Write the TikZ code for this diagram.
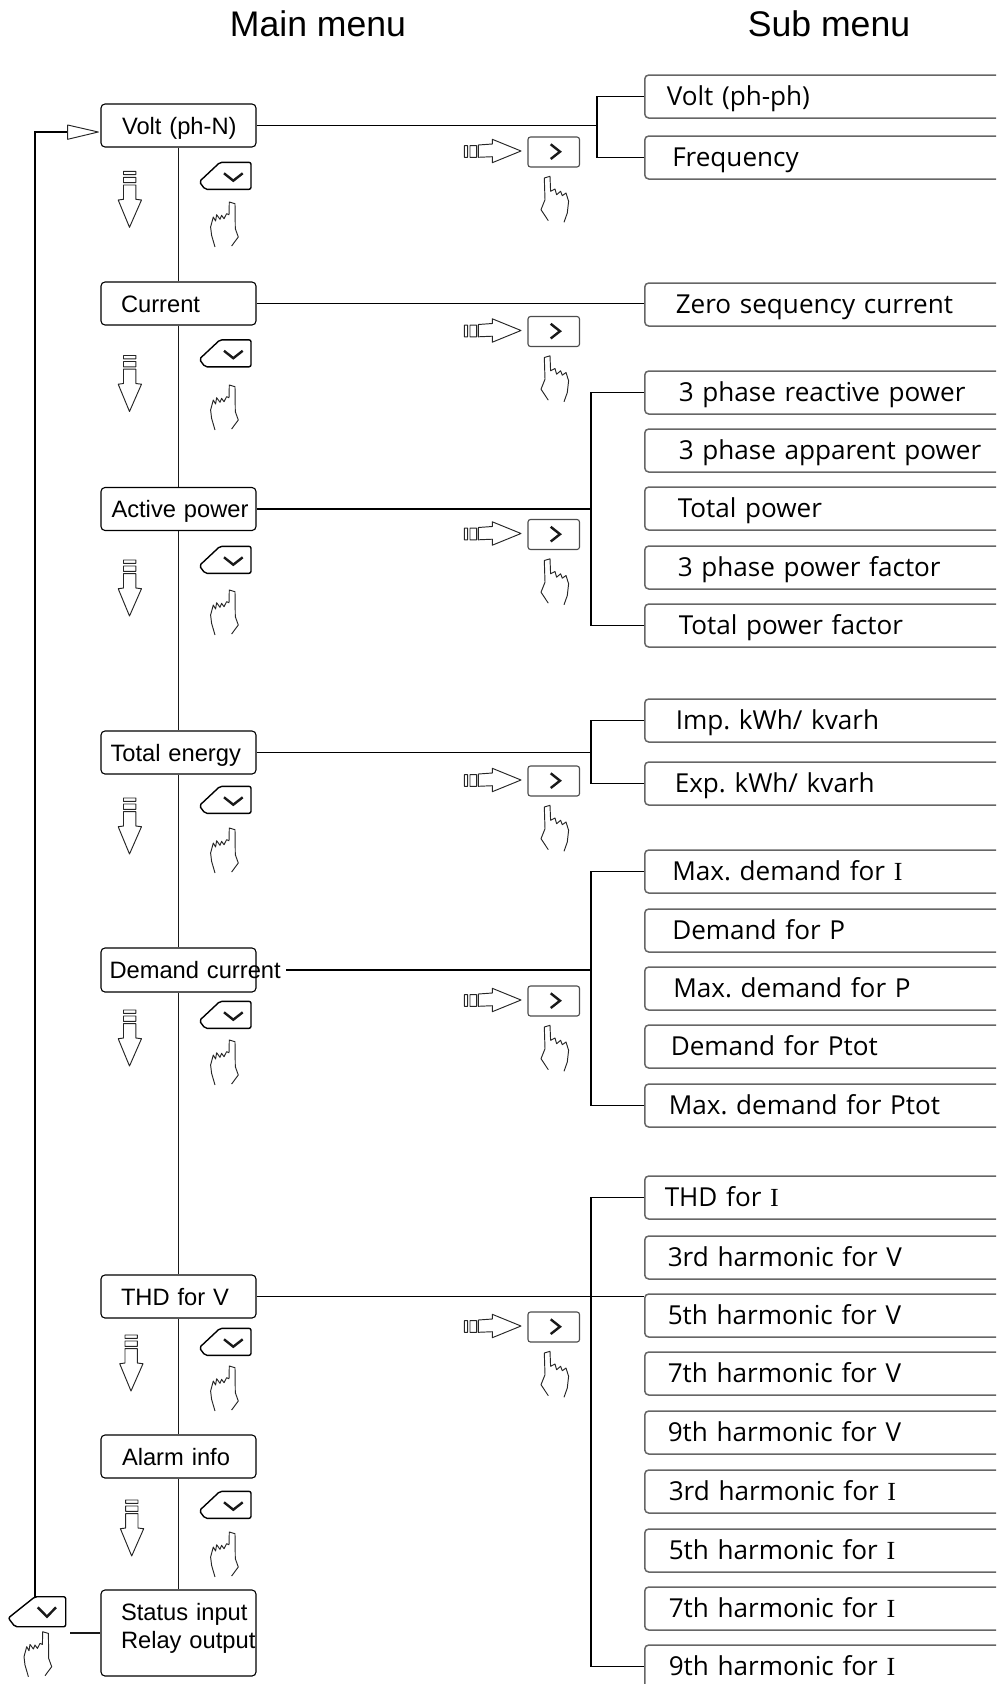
\documentclass[tikz,border=0pt]{standalone}
\usepackage{fontspec}
\setmainfont{Liberation Sans}
\newfontfamily\subfont{Open Sans}
\newfontfamily\serifI{Liberation Serif}
\newcommand{\sI}{{\serifI I}}
\tikzset{
  x=1pt,y=-1pt,
  icon/.style={draw=black,line width=0.9pt,line join=round},
  thinicon/.style={draw=black!85,line width=0.95pt,line join=round},
  chev/.style={draw=black!90,line width=2.4pt,line join=miter},
  wire/.style={draw=black,line width=1.8pt},
  wirethin/.style={draw=black!90,line width=1.6pt},
  mainbox/.style={draw=black,line width=1.1pt,fill=white,rounded corners=4pt,minimum width=155pt,text width=155pt,inner sep=0pt,align=left,font=\fontsize{23.7}{28}\selectfont},
  subbox/.style={draw=black!60,line width=1.5pt,rounded corners=4pt,fill=white,minimum height=43pt,minimum width=370pt,text width=370pt,inner sep=0pt,align=left,font=\subfont\frenchspacing\fontsize{26.1}{32}\selectfont},
  title/.style={inner sep=0pt,font=\fontsize{35.6}{40}\selectfont}
}
\newcommand{\tx}[3]{\hspace*{#1pt}\smash{\rlap{\raisebox{#2pt}{#3}}}}
\newcommand{\mainnode}[5]{\node[mainbox,minimum height=#3pt] (#1) at (178.5,#2) {\tx{#4}{-8.6}{#5}};}
\newcommand{\subnode}[4]{\node[subbox,anchor=west] (#1) at (644,#2) {\tx{#3}{-8.8}{#4}};}
\newcommand{\lefthand}[2]{\draw[thinicon,shift={(#1,#2)}] (-14.3,45) -- (-17.7,33.3) -- (-18.7,25) -- (-16,15) -- (-13.7,19) -- (-12.7,12.7) -- (-9.3,17.3) -- (-7.7,13.3) -- (-5.3,16.7) -- (-2.7,11.7) -- (-.3,12.7) -- (0,0) -- (5.7,1.7) -- (6,26.7) -- (9,35) -- (2.3,44);}
\newcommand{\righthand}[2]{\draw[thinicon,shift={(#1,#2)}] (4,42.7) -- (-3.3,31.7) -- (.7,21.7) -- (0,0) -- (5.7,-1.7) -- (6.3,13.3) -- (10.7,11) -- (12.3,16.7) -- (16.3,13.3) -- (18,17.7) -- (21.7,15) -- (24.3,23.3) -- (23,35) -- (19.7,44.3);}
% #1 centre y of the button, #2 arrow tip x, #3 arrow tip y, #4 hand top y
\newcommand{\downset}[4]{
  \draw[icon,line width=1.4pt,rounded corners=2pt,shift={(0,#1)}] (199.3,5.7) -- (220,-13.7) -- (251,-13.7) -- (251,13.3) -- (205,13.3) -- cycle;
  \draw[chev,shift={(0,#1)}] (224,-2.7) -- (233.3,4.7) -- (242.7,-2.7);
  \lefthand{229.3}{#4}
  \draw[thinicon,shift={(#2,#3)}] (-6,-56) rectangle (6.3,-52.7) (-6,-50) rectangle (6.3,-44.7)
     (-6,-42.3) -- (-6,-28) -- (-11.3,-27.3) -- (0,0) -- (12,-27.3) -- (6.3,-28) -- (6.3,-42.3) -- cycle;
}
\newcommand{\rightset}[1]{
  \draw[draw=black!70,line width=1.1pt,rounded corners=2.5pt,shift={(0,#1)}] (528,-15) rectangle (579.5,15);
  \draw[chev,shift={(0,#1)}] (550.7,-7.7) -- (560,-.3) -- (550.7,7);
  \righthand{544.3}{#1+26}
  \draw[thinicon,shift={(0,#1)}] (464.3,-6.3) rectangle (467.7,5.3) (470,-6.3) rectangle (476.7,5.3)
     (478.3,-7) -- (492.3,-8) -- (492.3,-12.7) -- (521,-1) -- (492.3,10.7) -- (492.3,4.7) -- (478.3,5.3) -- cycle;
}
\begin{document}
\begin{tikzpicture}
\useasboundingbox (0,0) rectangle (996,1684);
\clip (0,0) rectangle (996,1684);
% titles
\node[title,anchor=center] (tmain) at (318,24) {Main menu};
\node[title,anchor=center] (tsub) at (829,24) {Sub menu};
% sub menu
\subnode{s1}{96.5}{22}{Volt (ph-ph)}
\subnode{s2}{157.5}{27.5}{Frequency}
\subnode{s3}{304.5}{31}{Zero sequency current}
\subnode{s4}{392.5}{34}{3 phase reactive power}
\subnode{s5}{450.5}{34}{3 phase apparent power}
\subnode{s6}{508.5}{33}{Total power}
\subnode{s7}{567.5}{33}{3 phase power factor}
\subnode{s8}{625.5}{34}{Total power factor}
\subnode{s9}{720.5}{31}{Imp. kWh/ kvarh}
\subnode{s10}{783.5}{30}{Exp. kWh/ kvarh}
\subnode{s11}{871.5}{27.5}{Max. demand for \sI}
\subnode{s12}{930.5}{27.5}{Demand for P}
\subnode{s13}{988.5}{28.6}{Max. demand for P}
\subnode{s14}{1046.5}{26}{Demand for Ptot}
\subnode{s15}{1105.5}{24}{Max. demand for Ptot}
\subnode{s16}{1197.5}{20}{THD for \sI}
\subnode{s17}{1257.5}{23}{3rd harmonic for V}
\subnode{s18}{1315.5}{23}{5th harmonic for V}
\subnode{s19}{1373.5}{23}{7th harmonic for V}
\subnode{s20}{1432.5}{23}{9th harmonic for V}
\subnode{s21}{1491.5}{24}{3rd harmonic for \sI}
\subnode{s22}{1550.5}{24}{5th harmonic for \sI}
\subnode{s23}{1608.5}{24}{7th harmonic for \sI}
\subnode{s24}{1666.5}{24}{9th harmonic for \sI}
% main menu
\mainnode{m1}{125.5}{43}{21}{Volt (ph-N)}
\mainnode{m2}{303.5}{43}{20}{Current}
\mainnode{m3}{509}{43}{10.5}{Active power}
\mainnode{m4}{752.5}{43}{9.5}{Total energy}
\mainnode{m5}{970}{44}{8.5}{Demand current}
\mainnode{m6}{1296.5}{43}{20}{THD for V}
\mainnode{m7}{1456.5}{43}{21}{Alarm info}
\node[mainbox,minimum height=86pt] (m8) at (178.5,1633) {\tx{20}{13}{Status input}\tx{0}{-15.5}{Relay output}};
% main chain
\draw[wirethin] (m1) -- (m2);
\draw[wirethin] (m2) -- (m3);
\draw[wirethin] (m3) -- (m4);
\draw[wirethin] (m4) -- (m5);
\draw[wirethin] (m5) -- (m6);
\draw[wirethin] (m6) -- (m7);
\draw[wirethin] (m7) -- (m8);
% branches
\coordinate (b1) at (597,125.5);
\coordinate (b3) at (591,509);
\coordinate (b4) at (591,752.5);
\coordinate (b5) at (591,970);
\coordinate (b6) at (591,1296.5);
\coordinate (d5) at (286,970);
\draw[wire] (m1.east) -- (b1);
\draw[wire] (s1.west) -| (b1);
\draw[wire] (s2.west) -| (b1);
\draw[wire] (m2.east) -- (s3.west |- m2.east);
\draw[wire] (m3.east) -- (b3);
\draw[wire] (s4.west) -| (b3);
\draw[wire] (s8.west) -| (b3);
\draw[wire] (m4.east) -- (b4);
\draw[wire] (s9.west) -| (b4);
\draw[wire] (s10.west) -| (b4);
\draw[wire] (d5) -- (b5);
\draw[wire] (s11.west) -| (b5);
\draw[wire] (s15.west) -| (b5);
\draw[wire] (m6.east) -- (s18.west |- m6.east);
\draw[wire] (s16.west) -| (b6);
\draw[wire] (s24.west) -| (b6);
% return path
\coordinate (rb) at (35,1596.7);
\coordinate (ra) at (67.7,132);
\coordinate (st) at (70,1633);
\draw[wire] (rb) -- (35,132) -- (ra);
\draw[thinicon] (67.7,125) -- (98.3,132) -- (67.7,139.3) -- cycle;
\draw[wirethin] (st) -- (m8.west |- st);
% left button at the bottom
\draw[icon,line width=1.4pt,rounded corners=2pt] (8.3,1618) -- (35,1596.7) -- (65.7,1596.7) -- (65.7,1626.7) -- (15,1626.7) -- cycle;
\draw[chev] (37.7,1607.3) -- (47,1616.7) -- (56,1607.3);
\lefthand{42.7}{1631.7}
% icon sets
\downset{176}{129.5}{227.3}{202}
\downset{353.5}{129.5}{411.5}{385}
\downset{560}{129.5}{616}{590}
\downset{800}{129.5}{854}{828}
\downset{1015}{129.5}{1066}{1040}
\downset{1342}{131}{1391}{1366}
\downset{1505}{131.7}{1556}{1532}
\rightset{152}
\rightset{331.5}
\rightset{534.5}
\rightset{781}
\rightset{1001}
\rightset{1327}
\end{tikzpicture}
\end{document}
